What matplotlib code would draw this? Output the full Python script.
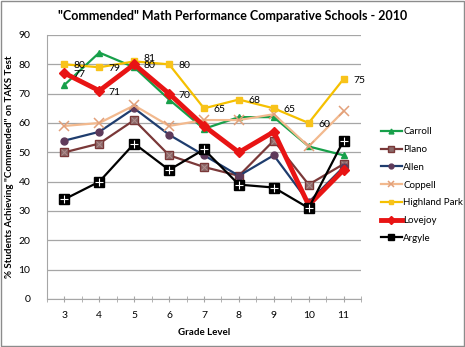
import numpy as np
import matplotlib
matplotlib.use('agg')
import matplotlib.pyplot as plt
from matplotlib.patches import Rectangle

grades = [3, 4, 5, 6, 7, 8, 9, 10, 11]

carroll = [73, 84, 79, 68, 58, 62, 62, 52, 49]
plano = [50, 53, 61, 49, 45, 42, 54, 39, 46]
allen = [54, 57, 65, 56, 49, 42, 49, 33, 45]
coppell = [59, 60, 66, 59, 61, 61, 63, 52, 64]
highland = [80, 79, 81, 80, 65, 68, 65, 60, 75]
lovejoy = [77, 71, 80, 70, 59, 50, 57, 32, 44]
argyle = [34, 40, 53, 44, 51, 39, 38, 31, 54]

lovejoy_labels = 4  # only first four points labelled

plt.rcParams['font.family'] = ['Lato', 'DejaVu Sans']

fig = plt.figure(figsize=(4.65, 3.47), dpi=100)
ax = fig.add_axes([47/465, 1-299/347, (361-47)/465, (299-35)/347])

# outer chart border
fig.patches.append(Rectangle((0.003, 0.003), 0.994, 0.994, transform=fig.transFigure,
                             fill=False, edgecolor='#8c8c8c', linewidth=1.0))

x = np.array(grades)

ax.plot(x, carroll, color='#17a04a', marker='^', markersize=5, linewidth=1.6,
        markerfacecolor='#17a04a', markeredgecolor='#17a04a', label='Carroll', zorder=3)
ax.plot(x, plano, color='#7a3838', marker='s', markersize=5.5, linewidth=1.6,
        markerfacecolor='#8c6a6a', markeredgecolor='#7a3838', label='Plano', zorder=3)
ax.plot(x, plano, linestyle='none', marker='x', markersize=4, markeredgewidth=0.7,
        color='#b08c8c', zorder=3)
ax.plot(x, allen, color='#1f3d6e', marker='o', markersize=5, linewidth=1.6,
        markerfacecolor='#5e3a5a', markeredgecolor='#5e3a5a', label='Allen', zorder=3)
ax.plot(x, coppell, color='#f2b98e', marker='x', markersize=6.5, markeredgewidth=1.1,
        linewidth=1.6, markerfacecolor='#f2b98e', markeredgecolor='#e2a07a',
        label='Coppell', zorder=3)
ax.plot(x, highland, color='#f5c000', marker='s', markersize=5, linewidth=1.6,
        markerfacecolor='#f8c31a', markeredgecolor='#f8c31a', label='Highland Park', zorder=3)
ax.plot(x, lovejoy, color='#e81414', marker='D', markersize=5.5, linewidth=3.5,
        markerfacecolor='#e81414', markeredgecolor='#e81414', label='Lovejoy', zorder=4)
ax.plot(x, argyle, color='black', marker='s', markersize=6.5, linewidth=1.6,
        markerfacecolor='black', markeredgecolor='black', label='Argyle', zorder=5)
ax.plot(x, argyle, linestyle='none', marker='+', markersize=6, markeredgewidth=0.8,
        color='white', zorder=5)

# data labels
for xi, v in zip(x, highland):
    dy = 1.5 if v == 81 else 0
    ax.text(xi + 0.27, v - 0.5 + dy, str(v), fontsize=7.5, va='center', ha='left', zorder=6)
for xi, v in zip(x[:lovejoy_labels], lovejoy[:lovejoy_labels]):
    ax.text(xi + 0.27, v - 0.5, str(v), fontsize=7.5, va='center', ha='left', zorder=6)

ax.set_xlim(2.5, 11.5)
ax.set_ylim(0, 90)
ax.set_yticks(range(0, 91, 10))
ax.set_xticks(grades)
ax.set_xticks(np.arange(2.5, 12, 1), minor=True)
ax.tick_params(axis='y', length=0, labelsize=7.5, pad=12)
ax.tick_params(axis='x', which='both', direction='inout', length=5, color='#a6a6a6',
               labelsize=7.5, pad=6)
ax.yaxis.grid(True, color='#a6a6a6', linewidth=0.9)
ax.set_axisbelow(True)
for s in ['top', 'right']:
    ax.spines[s].set_visible(False)
ax.spines['left'].set_color('#a6a6a6')
ax.spines['bottom'].set_color('#a6a6a6')

ax.set_xlabel('Grade Level', fontsize=7, fontweight='bold', labelpad=6)
ax.set_ylabel('% Students Achieving "Commended" on TAKS Test', fontsize=7,
              fontweight='bold', labelpad=3)
fig.text(0.5, 1-16/347, '"Commended" Math Performance Comparative Schools - 2010',
         ha='center', va='center', fontsize=9, fontweight='bold')

handles, labels = ax.get_legend_handles_labels()
leg = fig.legend(handles, labels, loc='center left', bbox_to_anchor=(372/465, 1-185/347),
                 frameon=False, fontsize=7, handlelength=2.2, handletextpad=0.1,
                 labelspacing=0.9, markerscale=0.7)

fig.savefig('out.png', dpi=100)
plt.close(fig)
